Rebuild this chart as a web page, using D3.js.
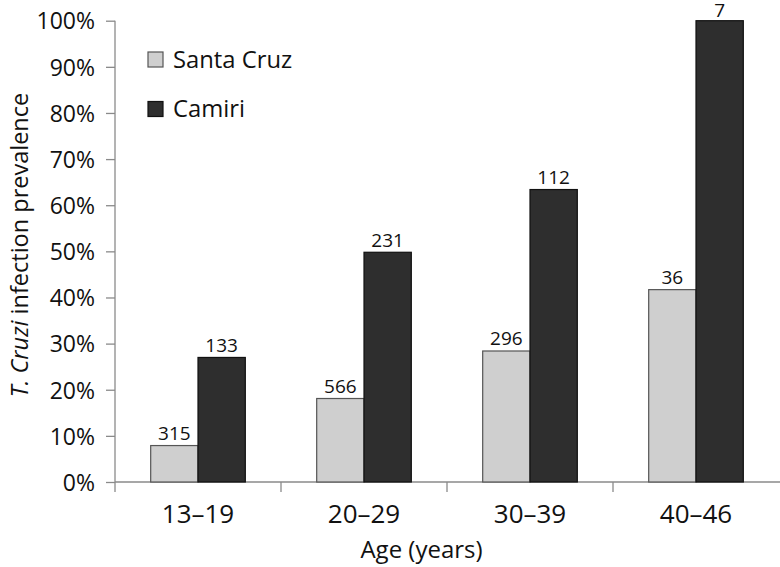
<!DOCTYPE html>
<html><head><meta charset="utf-8">
<script src="https://cdn.jsdelivr.net/npm/d3@7"></script>
<style>
body{margin:0;background:#fff;}
text{font-family:"Open Sans",sans-serif;fill:#111;}
</style></head>
<body><svg id="c" width="780" height="567"></svg>
<script>
const categories = ["13\u201319","20\u201329","30\u201339","40\u201346"];
const seriesNames = ["Santa Cruz","Camiri"];
const santaCruz = [0.079, 0.181, 0.284, 0.417];
const camiri = [0.270, 0.498, 0.634, 1.0];
const santaCruzN = ["315","566","296","36"];
const camiriN = ["133","231","112","7"];
const yTicks = [0,0.1,0.2,0.3,0.4,0.5,0.6,0.7,0.8,0.9,1.0];
const colors = ["#cfcfcf","#2e2e2e"];
const strokes = ["#555","#111"];

(function(){
const svg = d3.select("#c");
const pL = 115, pR = 779, pT = 20.7, pB = 482;
const x = d3.scaleBand().domain(categories).range([pL,pR]).padding(0);
const y = d3.scaleLinear().domain([0,1]).range([pB,pT]);
const barW = x.bandwidth()*0.285;
const xs = d3.scaleBand().domain(seriesNames).range([0,2*barW]);

const data = [];
categories.forEach((c,i)=>{
  data.push({c, s:"Santa Cruz", v:santaCruz[i], n:santaCruzN[i], k:0});
  data.push({c, s:"Camiri", v:camiri[i], n:camiriN[i], k:1});
});

// axes
const yAxis = svg.append("g").attr("transform",`translate(${pL},0)`)
  .call(d3.axisLeft(y).tickValues(yTicks).tickSize(9).tickPadding(11).tickFormat(d3.format(".0%")));
yAxis.select(".domain").remove();
yAxis.selectAll(".tick line").attr("stroke","#8a8a8a").attr("stroke-width",1.3);
yAxis.selectAll(".tick text").attr("font-size",23).attr("font-family","Open Sans").attr("fill","#111").attr("dy","0.36em");
svg.append("line").attr("x1",pL).attr("x2",pL).attr("y1",y(1)).attr("y2",pB+10)
  .attr("stroke","#8a8a8a").attr("stroke-width",1.3);

const xAxis = svg.append("g").attr("transform",`translate(0,${pB})`)
  .call(d3.axisBottom(x).tickSize(0).tickPadding(0));
xAxis.select(".domain").remove();
xAxis.selectAll(".tick text").attr("font-size",26).attr("font-family","Open Sans").attr("fill","#111")
  .attr("dy","0").attr("y",40.5);
svg.append("line").attr("x1",pL).attr("x2",780).attr("y1",pB).attr("y2",pB)
  .attr("stroke","#8a8a8a").attr("stroke-width",1.3);
svg.selectAll("line.ctick").data(categories.slice(1)).enter().append("line")
  .attr("x1",d=>x(d)).attr("x2",d=>x(d)).attr("y1",pB).attr("y2",pB+10)
  .attr("stroke","#8a8a8a").attr("stroke-width",1.3);

// bars
svg.selectAll("rect.bar").data(data).enter().append("rect")
  .attr("x",d=>x(d.c)+x.bandwidth()/2-barW+xs(d.s))
  .attr("y",d=>y(d.v))
  .attr("width",xs.bandwidth())
  .attr("height",d=>pB-y(d.v))
  .attr("fill",d=>colors[d.k])
  .attr("stroke",d=>strokes[d.k]).attr("stroke-width",1.2);

svg.selectAll("text.lbl").data(data).enter().append("text")
  .attr("x",d=>x(d.c)+x.bandwidth()/2-barW+xs(d.s)+xs.bandwidth()/2)
  .attr("y",d=>Math.max(y(d.v)-5.5, 16.5))
  .attr("text-anchor","middle").attr("font-size",19).text(d=>d.n);

// legend
const leg = svg.selectAll("g.leg").data(seriesNames).enter().append("g")
  .attr("transform",(d,i)=>`translate(148,${52+i*49.5})`);
leg.append("rect").attr("width",15).attr("height",15)
  .attr("fill",(d,i)=>colors[i]).attr("stroke",(d,i)=>strokes[i]).attr("stroke-width",1.2);
leg.append("text").attr("x",25).attr("y",15.5).attr("font-size",23.8).text(d=>d);

// axis titles
svg.append("text").attr("x",(pL+780)/2-26).attr("y",558).attr("text-anchor","middle")
  .attr("font-size",24).text("Age (years)");
const yt = svg.append("text").attr("transform",`translate(28,245) rotate(-90)`)
  .attr("text-anchor","middle").attr("font-size",23.5);
yt.append("tspan").attr("font-style","italic").text("T. Cruzi");
yt.append("tspan").text(" infection prevalence");
})();
</script></body></html>
